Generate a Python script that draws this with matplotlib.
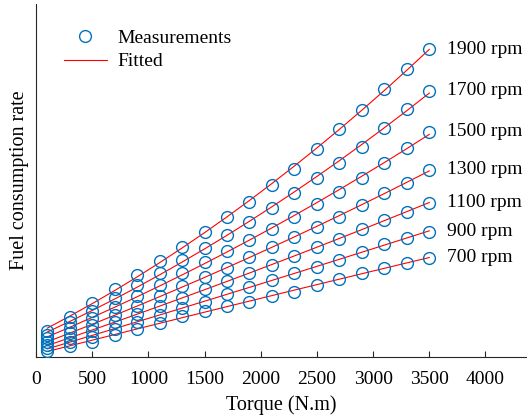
import numpy as np
import matplotlib.pyplot as plt

plt.rcParams['font.family'] = ['Liberation Serif', 'DejaVu Serif']
plt.rcParams['mathtext.fontset'] = 'stix'

# torque points (N.m) and measured fuel rate for each engine speed (a.u.)
torque = [100, 300, 500, 700, 900, 1100, 1300, 1500, 1700,
          1900, 2100, 2300, 2500, 2700, 2900, 3100, 3300, 3500]
speeds = ['1900 rpm', '1700 rpm', '1500 rpm', '1300 rpm', '1100 rpm', '900 rpm', '700 rpm']

fuel_1900 = [26.5, 40.0, 53.7, 67.7, 82.0, 96.3, 110.3, 125.3, 140.0,
             155.0, 172.0, 188.0, 208.0, 227.7, 247.0, 267.7, 287.7, 307.7]
fuel_1700 = [22.5, 34.7, 46.3, 58.9, 71.6, 84.3, 97.0, 109.3, 122.0,
             135.3, 148.7, 163.7, 179.3, 194.3, 210.3, 229.3, 247.7, 266.3]
fuel_1500 = [18.7, 29.1, 38.9, 50.1, 61.2, 72.3, 83.7, 95.3, 106.0,
             117.0, 128.0, 140.3, 153.0, 165.3, 179.3, 193.7, 209.3, 225.3]
fuel_1300 = [15.0, 23.7, 31.9, 41.7, 51.3, 60.8, 71.0, 80.3, 89.3,
             99.7, 109.7, 119.7, 129.7, 140.3, 152.0, 164.3, 174.3, 187.0]
fuel_1100 = [11.9, 19.2, 26.0, 34.6, 42.9, 51.1, 59.5, 67.7, 76.0,
             83.7, 92.0, 101.0, 109.7, 118.0, 127.7, 137.0, 145.3, 154.3]
fuel_900 = [9.0, 15.0, 20.5, 28.0, 35.1, 42.1, 49.0, 55.5, 62.7,
            69.7, 77.0, 84.3, 90.3, 97.0, 104.7, 113.0, 119.3, 125.3]
fuel_700 = [6.3, 11.1, 15.3, 21.9, 27.8, 33.7, 41.0, 46.0, 51.0,
            55.3, 61.0, 65.3, 72.0, 77.7, 84.3, 88.7, 94.3, 99.3]

fuel_all = [fuel_1900, fuel_1700, fuel_1500, fuel_1300, fuel_1100, fuel_900, fuel_700]

FS = 14

fig = plt.figure(figsize=(5.27, 4.18), dpi=100)
ax = fig.add_axes([36 / 527, 61 / 418, 491 / 527, 353 / 418])

t = np.array(torque)
for i, (name, fuel) in enumerate(zip(speeds, fuel_all)):
    fuel = np.array(fuel)
    # quadratic fit of fuel rate vs torque
    coef = np.polyfit(t, fuel, 2)
    fit = np.polyval(coef, t)
    ax.plot(t, fuel, 'o', mfc='none', mec='#0072BD', ms=8.5, mew=1.0,
            label='Measurements' if i == 0 else None, zorder=3)
    ax.plot(t, fit, '-', color='red', lw=0.8,
            label='Fitted' if i == 0 else None, zorder=2)
    ax.annotate(name, xy=(t[-1], fuel[-1]), xytext=(13, 0), textcoords='offset points',
                va='center', ha='left', fontsize=FS)

ax.set_xlim(0, 4370)
ax.set_ylim(0, 353)
ax.set_xticks(np.arange(0, 4001, 500))
ax.set_yticks([])
ax.tick_params(axis='x', direction='in', length=4, labelsize=FS, pad=10, color='#262626')
ax.spines['top'].set_visible(False)
ax.spines['right'].set_visible(False)
for s in ['left', 'bottom']:
    ax.spines[s].set_color('#262626')
    ax.spines[s].set_linewidth(0.8)

ax.set_xlabel('Torque (N.m)', fontsize=14.5, labelpad=5)
ax.set_ylabel('Fuel consumption rate', fontsize=14.5, labelpad=5)

ax.legend(loc='upper left', bbox_to_anchor=(0.057, 0.928), frameon=False,
          fontsize=FS, handlelength=2.2, handletextpad=0.57, borderpad=0,
          borderaxespad=0, labelspacing=0.3)

fig.savefig('out.png', dpi=100)
